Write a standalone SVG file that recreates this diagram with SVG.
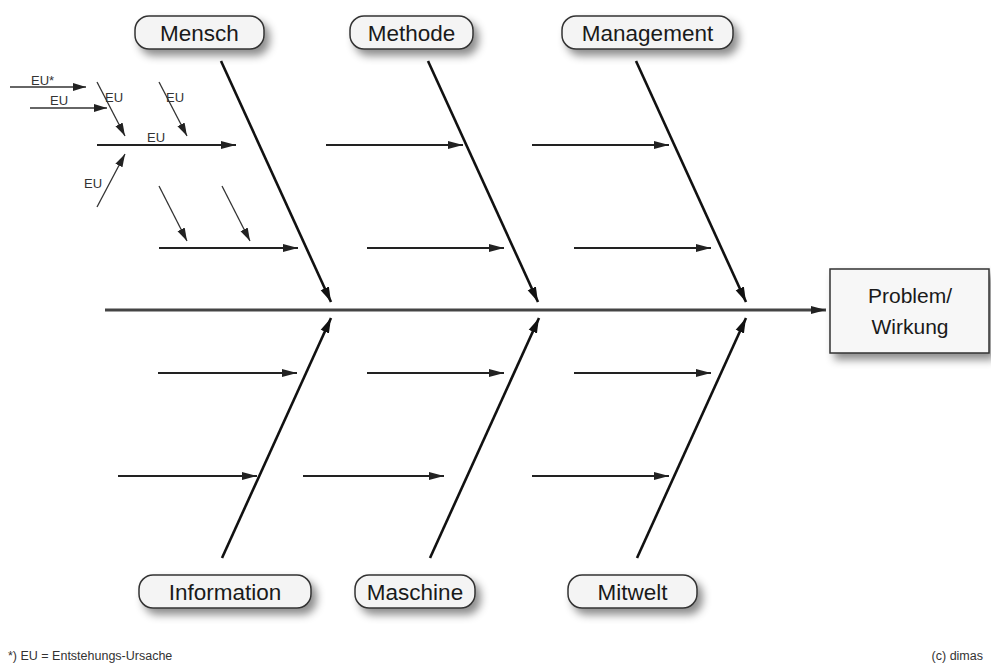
<svg xmlns="http://www.w3.org/2000/svg" width="991" height="666" viewBox="0 0 991 666">
<style>
.pill{fill:#f4f4f4;stroke:#333;stroke-width:1.5}
.lbl{font-family:"Liberation Sans",Arial,sans-serif;font-size:22.5px;fill:#1a1a1a;text-anchor:middle}
.eu{font-family:"Liberation Sans",Arial,sans-serif;font-size:13px;fill:#333}
.foot{font-family:"Liberation Sans",Arial,sans-serif;font-size:12.5px;fill:#333}
.bone{stroke:#111;stroke-width:2.6;fill:none}
.sub{stroke:#222;stroke-width:2.2;fill:none}
.small{stroke:#333;stroke-width:1.3;fill:none}
.spine{stroke:#444;stroke-width:3;fill:none}
</style>
<defs>
<filter id="sh" x="-20%" y="-30%" width="150%" height="180%">
<feDropShadow dx="5" dy="6" stdDeviation="4" flood-color="#000" flood-opacity="0.45"/>
</filter>
<marker id="ab" markerUnits="userSpaceOnUse" markerWidth="16" markerHeight="12" refX="15" refY="6" orient="auto">
<path d="M0,1.5 L15,6 L0,10.5 Z" fill="#111"/>
</marker>
<marker id="am" markerUnits="userSpaceOnUse" markerWidth="16" markerHeight="12" refX="15" refY="6" orient="auto">
<path d="M0,2 L15,6 L0,10 Z" fill="#222"/>
</marker>
<marker id="as" markerUnits="userSpaceOnUse" markerWidth="14" markerHeight="10" refX="13" refY="5" orient="auto">
<path d="M0,1 L13,5 L0,9 Z" fill="#222"/>
</marker>
</defs>
<rect width="991" height="666" fill="#fff"/>

<g id="connectors">
<line class="spine" x1="105" y1="310" x2="826" y2="310" marker-end="url(#am)"/>
<line class="bone" x1="221" y1="61" x2="331" y2="302" marker-end="url(#ab)"/>
<line class="bone" x1="428" y1="61" x2="538" y2="302" marker-end="url(#ab)"/>
<line class="bone" x1="636" y1="61" x2="746" y2="302" marker-end="url(#ab)"/>
<line class="bone" x1="222" y1="558" x2="331" y2="318" marker-end="url(#ab)"/>
<line class="bone" x1="430" y1="558" x2="539" y2="318" marker-end="url(#ab)"/>
<line class="bone" x1="637" y1="558" x2="746" y2="318" marker-end="url(#ab)"/>

<line class="sub" x1="97" y1="145" x2="236" y2="145" marker-end="url(#am)"/>
<line class="sub" x1="326" y1="145" x2="463" y2="145" marker-end="url(#am)"/>
<line class="sub" x1="532" y1="145" x2="669" y2="145" marker-end="url(#am)"/>
<line class="sub" x1="159" y1="248" x2="298" y2="248" marker-end="url(#am)"/>
<line class="sub" x1="367" y1="248" x2="504" y2="248" marker-end="url(#am)"/>
<line class="sub" x1="574" y1="248" x2="711" y2="248" marker-end="url(#am)"/>
<line class="sub" x1="158" y1="373" x2="297" y2="373" marker-end="url(#am)"/>
<line class="sub" x1="367" y1="373" x2="504" y2="373" marker-end="url(#am)"/>
<line class="sub" x1="574" y1="373" x2="711" y2="373" marker-end="url(#am)"/>
<line class="sub" x1="118" y1="476" x2="257" y2="476" marker-end="url(#am)"/>
<line class="sub" x1="303" y1="476" x2="444" y2="476" marker-end="url(#am)"/>
<line class="sub" x1="532" y1="476" x2="669" y2="476" marker-end="url(#am)"/>

<line class="small" x1="10" y1="87" x2="86" y2="87" marker-end="url(#as)"/>
<line class="small" x1="30" y1="108" x2="107" y2="108" marker-end="url(#as)"/>
<line class="small" x1="97" y1="82" x2="125" y2="136" marker-end="url(#as)"/>
<line class="small" x1="159" y1="82" x2="187" y2="136" marker-end="url(#as)"/>
<line class="small" x1="97" y1="207" x2="125" y2="154" marker-end="url(#as)"/>
<line class="small" x1="159" y1="186" x2="187" y2="241" marker-end="url(#as)"/>
<line class="small" x1="222" y1="186" x2="250" y2="241" marker-end="url(#as)"/>
</g>

<g id="eu-labels">
<text class="eu" x="31" y="85">EU*</text>
<text class="eu" x="50" y="105">EU</text>
<text class="eu" x="105" y="102">EU</text>
<text class="eu" x="166" y="102">EU</text>
<text class="eu" x="147" y="142">EU</text>
<text class="eu" x="84" y="188">EU</text>
</g>

<g id="mensch">
<rect class="pill" x="135" y="16" width="129" height="33" rx="14" filter="url(#sh)"/>
<text class="lbl" x="199.5" y="40.5">Mensch</text>
</g>
<g id="methode">
<rect class="pill" x="350" y="16" width="123" height="33" rx="14" filter="url(#sh)"/>
<text class="lbl" x="411.5" y="40.5">Methode</text>
</g>
<g id="management">
<rect class="pill" x="562" y="16" width="171" height="33" rx="14" filter="url(#sh)"/>
<text class="lbl" x="647.5" y="40.5">Management</text>
</g>
<g id="information">
<rect class="pill" x="139" y="575" width="172" height="33" rx="14" filter="url(#sh)"/>
<text class="lbl" x="225" y="599.5">Information</text>
</g>
<g id="maschine">
<rect class="pill" x="355" y="575" width="120" height="33" rx="14" filter="url(#sh)"/>
<text class="lbl" x="415" y="599.5">Maschine</text>
</g>
<g id="mitwelt">
<rect class="pill" x="568" y="575" width="129" height="33" rx="14" filter="url(#sh)"/>
<text class="lbl" x="632.5" y="599.5">Mitwelt</text>
</g>
<g id="problem">
<rect x="830" y="269" width="159" height="84" fill="#f7f7f7" stroke="#333" stroke-width="1.5" filter="url(#sh)"/>
<text class="lbl" x="910" y="303" style="font-size:21px">Problem/</text>
<text class="lbl" x="910" y="334" style="font-size:21px">Wirkung</text>
</g>

<g id="footer">
<text class="foot" x="8" y="660">*) EU = Entstehungs-Ursache</text>
<text class="foot" x="983" y="660" text-anchor="end">(c) dimas</text>
</g>
</svg>
